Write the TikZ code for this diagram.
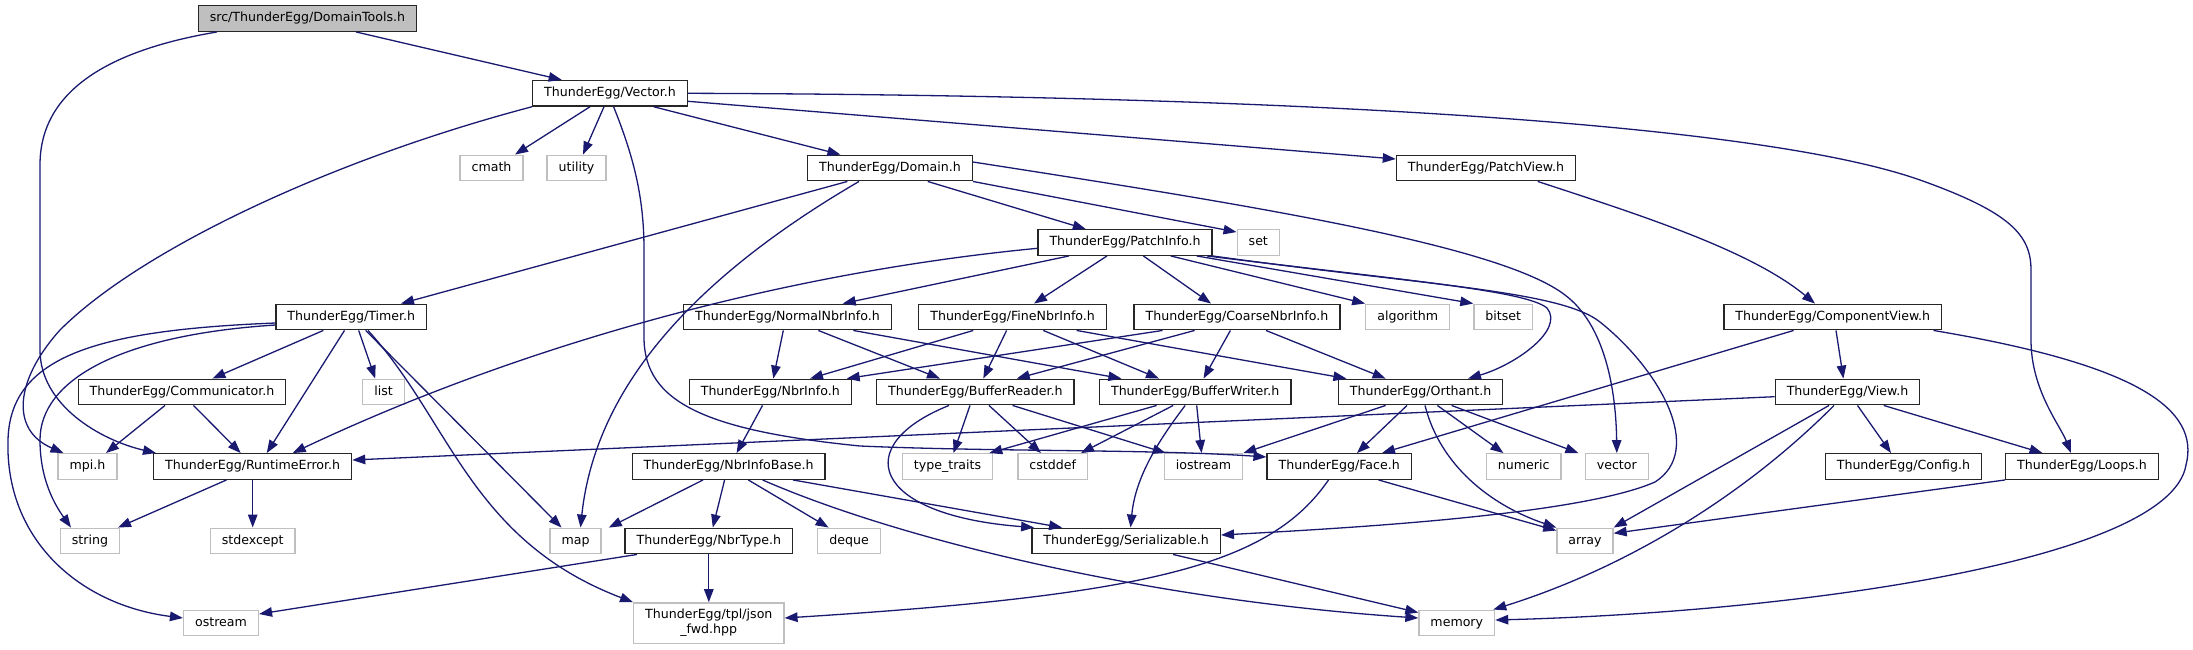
\documentclass[tikz,border=0pt]{standalone}
\usepackage{fontspec}
\setmainfont{DejaVu Sans}
\usetikzlibrary{arrows.meta}
\definecolor{EdgeBlue}{HTML}{191970}
\definecolor{Grey75}{HTML}{BFBFBF}

\begin{document}
\begin{tikzpicture}[
        x=1pt, y=-1pt,
        every node/.style={font=\fontsize{12.6}{15}\selectfont},
        hbox/.style={draw=black!85, line width=1.3pt, fill=white, minimum height=25.6pt, inner xsep=11.5pt, inner ysep=0pt, text height=9.4pt, text depth=2.8pt},
        xbox/.style={hbox, draw=Grey75},
        rbox/.style={hbox, fill=Grey75},
        dep/.style={-{Triangle[length=13pt, width=9.5pt]}, draw=EdgeBlue, line width=1.3pt}
    ]
        \useasboundingbox (0,0) rectangle (2193,649);

        \node[rbox] (dtools) at (307.5,18.5) {src/ThunderEgg/DomainTools.h};
        \node[hbox] (vect) at (610,93.3) {ThunderEgg/Vector.h};
        \node[xbox] (cmath) at (491.5,168) {cmath};
        \node[xbox] (utility) at (576.5,168) {utility};
        \node[hbox] (domain) at (890,168) {ThunderEgg/Domain.h};
        \node[hbox] (pview) at (1486,168) {ThunderEgg/PatchView.h};
        \node[hbox] (pinfo) at (1125,242.5) {ThunderEgg/PatchInfo.h};
        \node[xbox] (set) at (1258.3,242.5) {set};
        \node[hbox] (timer) at (351.3,317) {ThunderEgg/Timer.h};
        \node[hbox] (normal) at (787.5,317) {ThunderEgg/NormalNbrInfo.h};
        \node[hbox] (fine) at (1012.6,317) {ThunderEgg/FineNbrInfo.h};
        \node[hbox] (coarse) at (1237,317) {ThunderEgg/CoarseNbrInfo.h};
        \node[xbox] (algorithm) at (1407.7,317) {algorithm};
        \node[xbox] (bitset) at (1503.3,317) {bitset};
        \node[hbox] (compview) at (1832.8,317) {ThunderEgg/ComponentView.h};
        \node[hbox] (comm) at (182,392) {ThunderEgg/Communicator.h};
        \node[xbox] (list) at (383.5,392) {list};
        \node[hbox] (nbrinfo) at (770.3,392) {ThunderEgg/NbrInfo.h};
        \node[hbox] (breader) at (975.3,392) {ThunderEgg/BufferReader.h};
        \node[hbox] (bwriter) at (1195.2,392) {ThunderEgg/BufferWriter.h};
        \node[hbox] (orthant) at (1420.6,392) {ThunderEgg/Orthant.h};
        \node[hbox] (view) at (1847.5,392) {ThunderEgg/View.h};
        \node[xbox] (mpi) at (87.5,466.5) {mpi.h};
        \node[hbox] (rterr) at (252.7,466.5) {ThunderEgg/RuntimeError.h};
        \node[hbox] (nbase) at (728.6,466.5) {ThunderEgg/NbrInfoBase.h};
        \node[xbox] (ttraits) at (947.5,466.5) {type\_traits};
        \node[xbox] (cstddef) at (1052.7,466.5) {cstddef};
        \node[xbox] (iostream) at (1203.5,466.5) {iostream};
        \node[hbox] (face) at (1339.2,466.5) {ThunderEgg/Face.h};
        \node[xbox] (numeric) at (1523.7,466.5) {numeric};
        \node[xbox] (vector) at (1616.8,466.5) {vector};
        \node[hbox] (config) at (1903.4,466.5) {ThunderEgg/Config.h};
        \node[hbox] (loops) at (2082,466.5) {ThunderEgg/Loops.h};
        \node[xbox] (string) at (90,541) {string};
        \node[xbox] (stdexcept) at (252.7,541) {stdexcept};
        \node[xbox] (map) at (575.5,541) {map};
        \node[hbox] (ntype) at (708.8,541) {ThunderEgg/NbrType.h};
        \node[xbox] (deque) at (849,541) {deque};
        \node[hbox] (serial) at (1126.1,541) {ThunderEgg/Serializable.h};
        \node[xbox] (array) at (1585,541) {array};
        \node[xbox] (ostream) at (221,623) {ostream};
        \node[draw=Grey75, line width=1.3pt, fill=white, align=center, inner xsep=11.5pt, inner ysep=4pt, minimum height=40.3pt] (json) at (708.8,623) {ThunderEgg/tpl/json\\\_fwd.hpp};
        \node[xbox] (memory) at (1456.8,623) {memory};

        \draw[dep] ([xshift=48.5]dtools.south) -- ([xshift=-48.3]vect.north);
        \draw[dep] ([xshift=-90.5]dtools.south) .. controls (110,50) and (40,90) .. (40,165) -- (40,350) .. controls (40,405) and (100,440) .. ([xshift=-96.7]rterr.north);
        \draw[dep] (vect.south west) .. controls (330,160) and (140,250) .. (60,330) .. controls (15,380) and (10,430) .. ([xshift=-24]mpi.north);
        \draw[dep] ([xshift=-20]vect.south) -- ([xshift=23.5]cmath.north);
        \draw[dep] ([xshift=-6]vect.south) -- ([xshift=6.5]utility.north);
        \draw[dep] ([xshift=3.6]vect.south) .. controls (635,160) and (644,200) .. (644,250) -- (644,340) .. controls (646,400) and (700,430) .. (860,446) .. controls (1000,452) and (1150,449) .. ([yshift=9.5]face.west);
        \draw[dep] ([xshift=43.7]vect.south) -- ([xshift=-49.6]domain.north);
        \draw[dep] ([yshift=-8]vect.east) -- ([yshift=9]pview.west);
        \draw[dep] (vect.east) .. controls (1250,95) and (1750,120) .. (1920,180) .. controls (2010,212) and (2031,235) .. (2031,270) -- (2031,340) .. controls (2031,390) and (2060,425) .. ([xshift=-11]loops.north);

        \draw[dep] ([xshift=-42.6]domain.south) -- ([xshift=49.7]timer.north);
        \draw[dep] ([xshift=-31]domain.south) .. controls (690,280) and (595,390) .. ([xshift=5]map.north);
        \draw[dep] ([xshift=37.7]domain.south) -- ([xshift=-39.2]pinfo.north);
        \draw[dep] (domain.south east) -- ([yshift=-3]set.north west);
        \draw[dep] ([yshift=6]domain.east) .. controls (1250,205) and (1500,245) .. (1565,295) .. controls (1605,325) and (1616,390) .. (vector.north);
        \draw[dep] ([xshift=51.7]pview.south) .. controls (1640,215) and (1750,250) .. ([xshift=-17.8]compview.north);

        \draw[dep] ([yshift=-5.8]pinfo.west) .. controls (760,275) and (500,355) .. ([xshift=40]rterr.north);
        \draw[dep] ([xshift=-56]pinfo.south) -- ([xshift=55.2]normal.north);
        \draw[dep] ([xshift=-18]pinfo.south) -- ([xshift=21.4]fine.north);
        \draw[dep] ([xshift=18.4]pinfo.south) -- ([xshift=-26]coarse.north);
        \draw[dep] ([xshift=45.8]pinfo.south) -- (algorithm.north west);
        \draw[dep] ([xshift=71.7]pinfo.south) -- (bitset.north west);
        \draw[dep] ([xshift=82]pinfo.south) .. controls (1400,280) and (1525,290) .. (1547,308) .. controls (1565,330) and (1515,365) .. ([xshift=47.4]orthant.north);
        \draw[dep] (pinfo.south east) .. controls (1420,285) and (1560,290) .. (1600,322) .. controls (1660,370) and (1705,450) .. (1655,482) .. controls (1580,515) and (1350,528) .. ([yshift=6]serial.east);

        \draw[dep] ([xshift=-4.2]normal.south) -- ([xshift=3]nbrinfo.north);
        \draw[dep] ([xshift=30.8]normal.south) -- ([xshift=-35.3]breader.north);
        \draw[dep] ([xshift=65.8]normal.south) -- ([xshift=-73.8]bwriter.north);
        \draw[dep] ([xshift=-39.3]fine.south) -- ([xshift=39.7]nbrinfo.north);
        \draw[dep] ([xshift=-6]fine.south) -- ([xshift=8]breader.north);
        \draw[dep] ([xshift=30.7]fine.south) -- ([xshift=-36.2]bwriter.north);
        \draw[dep] ([xshift=64]fine.south) -- ([xshift=-74.2]orthant.north);
        \draw[dep] ([xshift=-74.5]coarse.south) -- ([xshift=76.4]nbrinfo.north);
        \draw[dep] ([xshift=-42.4]coarse.south) -- ([xshift=41.4]breader.north);
        \draw[dep] ([xshift=-6.6]coarse.south) -- ([xshift=8.3]bwriter.north);
        \draw[dep] ([xshift=29]coarse.south) -- ([xshift=-35]orthant.north);

        \draw[dep] ([xshift=-28]timer.south) -- ([xshift=30.4]comm.north);
        \draw[dep] ([xshift=-6.8]timer.south) -- ([xshift=14]rterr.north);
        \draw[dep] ([xshift=7.4]timer.south) -- ([xshift=-8.3]list.north);
        \draw[dep] ([xshift=14.4]timer.south) -- ([xshift=-14]map.north);
        \draw[dep] ([xshift=16.7]timer.south) .. controls (450,420) and (470,540) .. (json.north west);
        \draw[dep] ([yshift=-8]timer.west) .. controls (120,335) and (40,380) .. (40,440) .. controls (40,480) and (55,505) .. ([xshift=-19]string.north);
        \draw[dep] ([yshift=-6]timer.west) .. controls (100,330) and (10,355) .. (8,440) .. controls (5,540) and (80,605) .. ([yshift=5]ostream.west);

        \draw[dep] ([xshift=-17]comm.south) -- ([xshift=18.5]mpi.north);
        \draw[dep] ([xshift=11.5]comm.south) -- ([xshift=-12]rterr.north);
        \draw[dep] ([xshift=-26.2]rterr.south) -- ([xshift=28]string.north);
        \draw[dep] (rterr.south) -- (stdexcept.north);

        \draw[dep] ([xshift=-7.8]nbrinfo.south) -- ([xshift=8]nbase.north);
        \draw[dep] ([xshift=-25.6]nbase.south) -- ([xshift=33.3]map.north);
        \draw[dep] ([xshift=-4]nbase.south) -- ([xshift=4]ntype.north);
        \draw[dep] ([xshift=19.7]nbase.south) -- ([xshift=-20.4]deque.north);
        \draw[dep] ([xshift=64.4]nbase.south) -- ([xshift=-64]serial.north);
        \draw[dep] ([xshift=34]nbase.south) .. controls (900,540) and (1150,600) .. ([yshift=5]memory.west);
        \draw[dep] ([xshift=-71.8]ntype.south) -- ([yshift=9]ostream.east);
        \draw[dep] (ntype.south) -- (json.north);

        \draw[dep] ([xshift=-5.3]breader.south) -- ([xshift=6]ttraits.north);
        \draw[dep] ([xshift=13.7]breader.south) -- ([xshift=-11.7]cstddef.north);
        \draw[dep] ([xshift=37.3]breader.south) -- ([xshift=2]iostream.north west);
        \draw[dep] ([xshift=-26.3]breader.south) .. controls (850,445) and (870,515) .. ([xshift=-92]serial.north);
        \draw[dep] ([xshift=-38.6]bwriter.south) -- ([xshift=-4]ttraits.north east);
        \draw[dep] ([xshift=-22]bwriter.south) -- ([xshift=28.3]cstddef.north);
        \draw[dep] ([xshift=1.5]bwriter.south) -- ([xshift=-2]iostream.north);
        \draw[dep] ([xshift=-10]bwriter.south) .. controls (1155,445) and (1135,480) .. ([xshift=4.5]serial.north);

        \draw[dep] ([xshift=-35]orthant.south) -- (iostream.north east);
        \draw[dep] ([xshift=-13.6]orthant.south) -- ([xshift=17.8]face.north);
        \draw[dep] ([xshift=4.4]orthant.south) .. controls (1440,465) and (1490,505) .. (array.north west);
        \draw[dep] ([xshift=16.8]orthant.south) -- ([xshift=-20.3]numeric.north);
        \draw[dep] ([xshift=31]orthant.south) -- ([xshift=-38.4]vector.north);
        \draw[dep] ([xshift=39.3]face.south) -- ([yshift=-3]array.north west);
        \draw[dep] ([xshift=-10.7]face.south) .. controls (1270,565) and (1150,595) .. ([yshift=5]json.east);
        \draw[dep] ([xshift=47]serial.south) -- ([yshift=-3]memory.north west);

        \draw[dep] ([xshift=-39.2]compview.south) -- ([xshift=42.8]face.north);
        \draw[dep] ([xshift=3.2]compview.south) -- ([xshift=-4.1]view.north);
        \draw[dep] ([xshift=100.7]compview.south) .. controls (2140,365) and (2200,410) .. (2186,465) .. controls (2170,560) and (1800,612) .. ([yshift=3]memory.east);
        \draw[dep] ([yshift=-4.7]view.west) -- ([yshift=6.5]rterr.east);
        \draw[dep] ([xshift=-18.5]view.south) -- (array.north east);
        \draw[dep] ([xshift=-13.5]view.south) .. controls (1740,500) and (1620,570) .. ([xshift=-2]memory.north east);
        \draw[dep] ([xshift=10]view.south) -- ([xshift=-12.4]config.north);
        \draw[dep] ([xshift=36.2]view.south) -- ([xshift=-39.5]loops.north);
        \draw[dep] (loops.south west) -- ([yshift=7.7]array.east);
    \end{tikzpicture}
\end{document}
